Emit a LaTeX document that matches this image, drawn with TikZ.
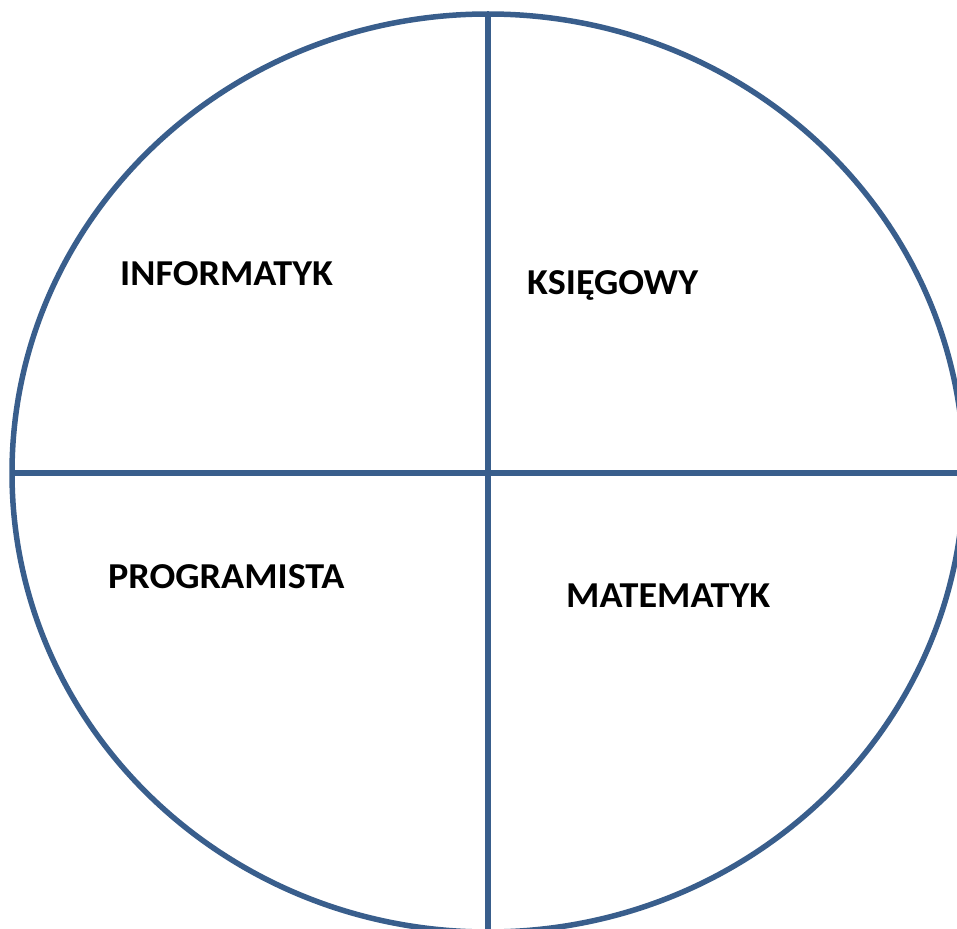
\documentclass[tikz,border=0pt]{standalone}
\usepackage{fontspec}
\setmainfont{Carlito}
\newcommand{\widetext}[1]{\scalebox{1.045}[1]{#1}}
\begin{document}
\begin{tikzpicture}[x=1pt,y=-1pt,
  lbl/.style={font=\fontsize{36.5}{40}\selectfont\bfseries, text=black, inner sep=0pt, anchor=base west}]
\definecolor{lineblue}{RGB}{57,94,140}
\tikzset{ring/.style={draw=lineblue, line width=5.5pt}}
\useasboundingbox (0,0) rectangle (957,928);
\begin{scope}
\clip (0,0) rectangle (957,928);
\coordinate (c) at (488,473);
\draw[ring] (c) ellipse [x radius=476, y radius=459];
\coordinate (top) at (488,14);
\coordinate (bot) at (488,940);
\coordinate (left) at (12,473);
\coordinate (right) at (970,473);
\draw[ring] (top) -- (bot);
\draw[ring] (left) -- (right);
\end{scope}
\node[lbl] (inf) at (120,285) {\widetext{INFORMATYK}};
\node[lbl] (ksi) at (527,294) {\widetext{KSIĘGOWY}};
\node[lbl] (pro) at (108,588) {\widetext{PROGRAMISTA}};
\node[lbl] (mat) at (566,607) {\widetext{MATEMATYK}};
\end{tikzpicture}
\end{document}
